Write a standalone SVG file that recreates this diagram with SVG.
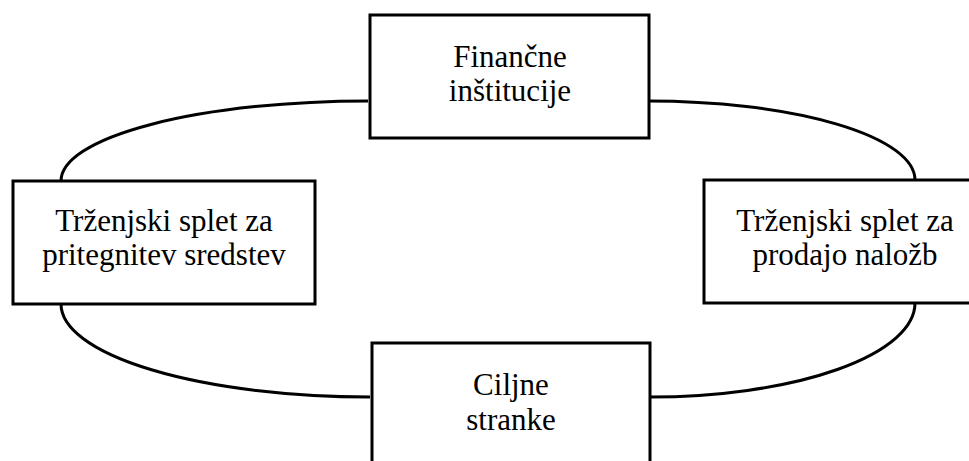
<svg xmlns="http://www.w3.org/2000/svg" width="969" height="461" viewBox="0 0 969 461">
<style>
.box{fill:#fff;stroke:#000;stroke-width:3}
.link{fill:none;stroke:#000;stroke-width:3}
text{font-family:"Liberation Serif","Times New Roman",serif;font-size:31px;fill:#000;text-anchor:middle}
</style>
<rect width="969" height="461" fill="#fff"/>
<g id="connectors">
<path class="link" d="M368,101 A307,80 0 0 0 61,181"/>
<path class="link" d="M61,304 A309,93 0 0 0 370,397"/>
<path class="link" d="M648,101 A267,79 0 0 1 915,180"/>
<path class="link" d="M915,303 A265,94 0 0 1 650,397"/>
</g>
<g id="n-financne">
<rect class="box" x="370" y="15" width="279" height="123"/>
<text x="510" y="67">Finančne</text>
<text x="510" y="101">inštitucije</text>
</g>
<g id="n-pritegnitev">
<rect class="box" x="13" y="181" width="302" height="123"/>
<text x="164" y="231">Trženjski splet za</text>
<text x="164" y="265">pritegnitev sredstev</text>
</g>
<g id="n-prodajo">
<rect class="box" x="704" y="180" width="290" height="123"/>
<text x="845" y="231">Trženjski splet za</text>
<text x="845" y="265">prodajo naložb</text>
</g>
<g id="n-ciljne">
<rect class="box" x="372" y="343" width="278" height="140"/>
<text x="511" y="395">Ciljne</text>
<text x="511" y="430">stranke</text>
</g>
</svg>
